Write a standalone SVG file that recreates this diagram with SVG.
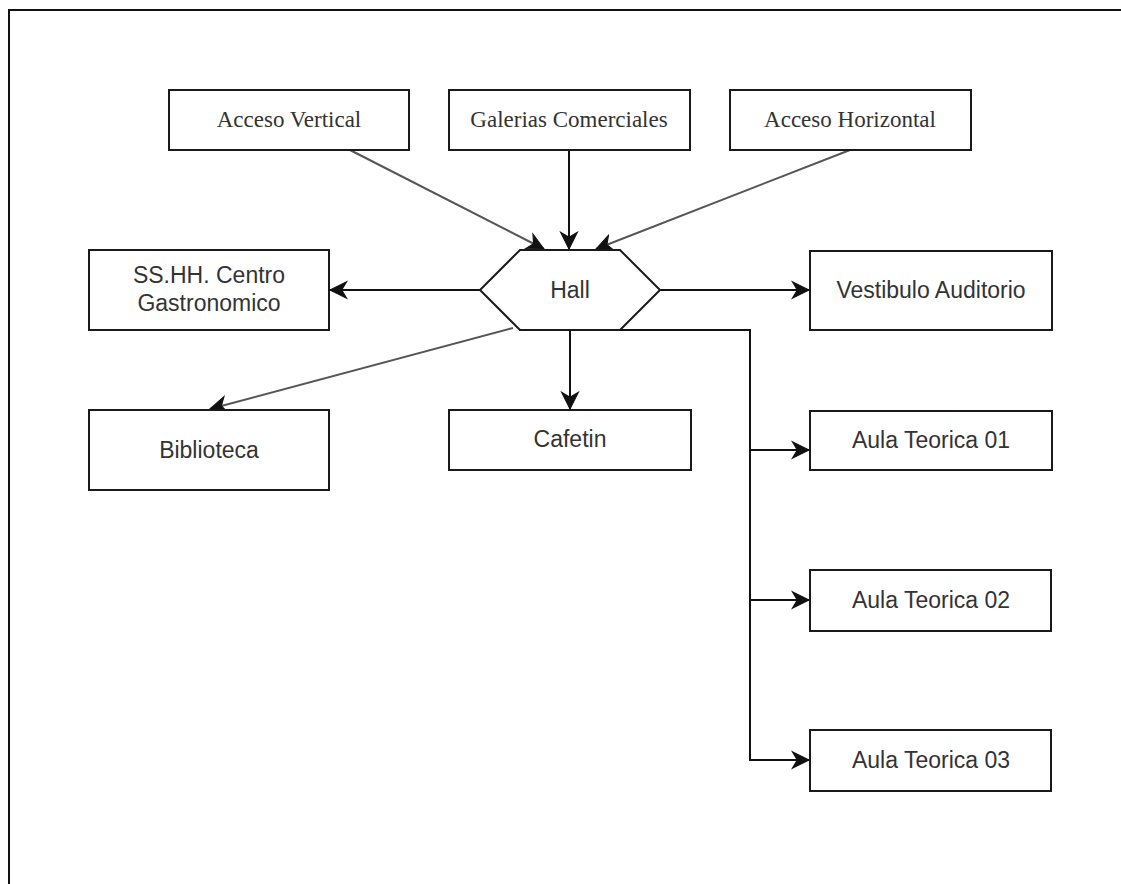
<svg xmlns="http://www.w3.org/2000/svg" width="1121" height="884" viewBox="0 0 1121 884">
<style>
.box{fill:#fff;stroke:#1a1a1a;stroke-width:2}
.serif{font-family:"Liberation Serif","Times New Roman",serif;font-size:23px;fill:#333;text-anchor:middle}
.sans{font-family:"Liberation Sans",Arial,sans-serif;font-size:23px;fill:#333;text-anchor:middle}
.edge{fill:none;stroke:#111;stroke-width:2}
.diag{fill:none;stroke:#555;stroke-width:2}
</style>
<defs>
<marker id="arr" markerUnits="userSpaceOnUse" markerWidth="20" markerHeight="20" viewBox="-16 -9 18 18" refX="0" refY="0" orient="auto">
<path d="M0,0 L-15,-7.5 L-10.5,0 L-15,7.5 Z" fill="#111" stroke="#111" stroke-width="1"/>
</marker>
</defs>
<rect width="1121" height="884" fill="#fff"/>
<g id="frame">
<path d="M9,884 V10 H1121" fill="none" stroke="#111" stroke-width="2"/>
</g>
<g id="connectors">
<path class="diag" d="M350,150 L544,249" marker-end="url(#arr)"/>
<path class="edge" d="M569,150 V249" marker-end="url(#arr)"/>
<path class="diag" d="M850,150 L596,249" marker-end="url(#arr)"/>
<path class="edge" d="M480,290 H330" marker-end="url(#arr)"/>
<path class="edge" d="M660,290 H809" marker-end="url(#arr)"/>
<path class="diag" d="M513,328 L210,409" marker-end="url(#arr)"/>
<path class="edge" d="M570,330 V409" marker-end="url(#arr)"/>
<path class="edge" d="M570,330 H750 V760 H809" marker-end="url(#arr)"/>
<path class="edge" d="M750,450 H809" marker-end="url(#arr)"/>
<path class="edge" d="M750,600 H809" marker-end="url(#arr)"/>
</g>
<g id="acceso-vertical">
<rect class="box" x="169" y="90" width="240" height="60"/>
<text class="serif" x="289" y="127">Acceso Vertical</text>
</g>
<g id="galerias-comerciales">
<rect class="box" x="449" y="90" width="241" height="60"/>
<text class="serif" x="569" y="127">Galerias Comerciales</text>
</g>
<g id="acceso-horizontal">
<rect class="box" x="730" y="90" width="241" height="60"/>
<text class="serif" x="850" y="127">Acceso Horizontal</text>
</g>
<g id="hall">
<polygon class="box" points="520,250 620,250 660,290 620,330 520,330 480,290"/>
<text class="sans" x="570" y="298">Hall</text>
</g>
<g id="sshh">
<rect class="box" x="89" y="250" width="240" height="80"/>
<text class="sans" x="209" y="283">SS.HH. Centro</text>
<text class="sans" x="209" y="311">Gastronomico</text>
</g>
<g id="vestibulo-auditorio">
<rect class="box" x="810" y="251" width="242" height="79"/>
<text class="sans" x="931" y="298">Vestibulo Auditorio</text>
</g>
<g id="biblioteca">
<rect class="box" x="89" y="410" width="240" height="80"/>
<text class="sans" x="209" y="458">Biblioteca</text>
</g>
<g id="cafetin">
<rect class="box" x="449" y="410" width="242" height="60"/>
<text class="sans" x="570" y="447">Cafetin</text>
</g>
<g id="aula-01">
<rect class="box" x="810" y="411" width="242" height="59"/>
<text class="sans" x="931" y="448">Aula Teorica 01</text>
</g>
<g id="aula-02">
<rect class="box" x="810" y="570" width="241" height="61"/>
<text class="sans" x="931" y="608">Aula Teorica 02</text>
</g>
<g id="aula-03">
<rect class="box" x="810" y="730" width="241" height="61"/>
<text class="sans" x="931" y="768">Aula Teorica 03</text>
</g>
</svg>
